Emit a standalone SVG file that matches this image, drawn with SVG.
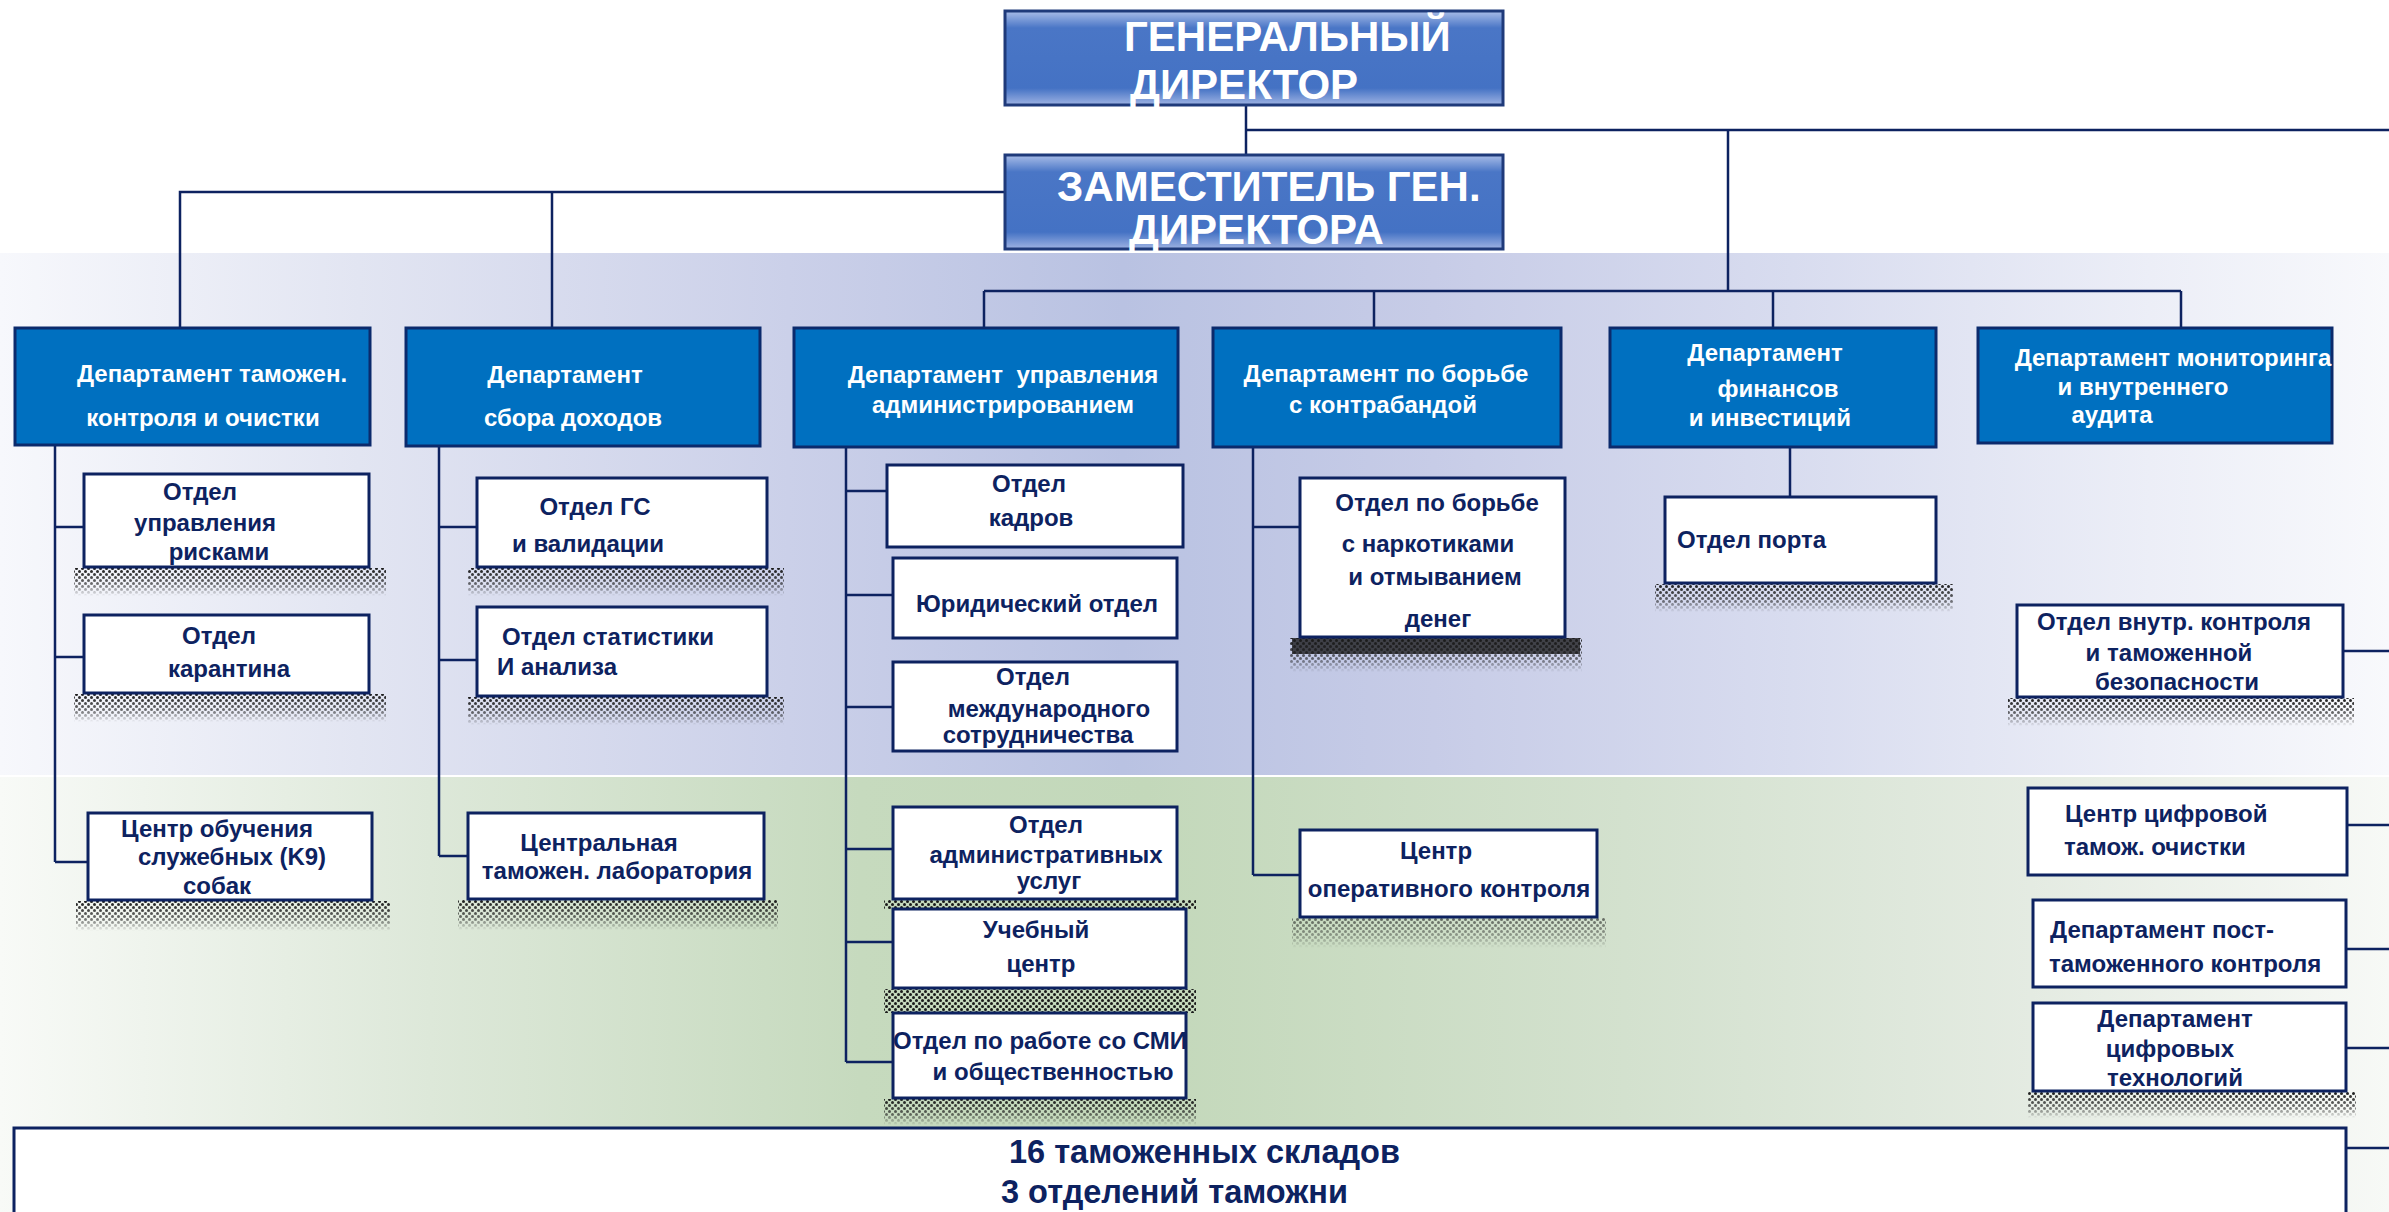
<svg xmlns="http://www.w3.org/2000/svg" width="2389" height="1212" viewBox="0 0 2389 1212">
<defs>
<style>
.dept rect{fill:#0070c0;stroke:#0b2a6c;stroke-width:3}
.sub rect.box{fill:#fff;stroke:#0d2260;stroke-width:3}
.top rect{fill:url(#topg);stroke:#1f3a7a;stroke-width:3}
.wt{font-family:"Liberation Sans",Arial,sans-serif;font-weight:bold;fill:#fff;font-size:24px}
.tt{font-family:"Liberation Sans",Arial,sans-serif;font-weight:bold;fill:#fff;font-size:42px}
.nt{font-family:"Liberation Sans",Arial,sans-serif;font-weight:bold;fill:#0d2260;font-size:24px}
.bt{font-family:"Liberation Sans",Arial,sans-serif;font-weight:bold;fill:#0d2260;font-size:32.5px}
.m{text-anchor:middle}
.conn path{fill:none;stroke:#0d2260;stroke-width:2.5}
.shd{fill:url(#dots)}
</style>
<linearGradient id="topg" x1="0" y1="0" x2="0" y2="1">
<stop offset="0" stop-color="#a9bde8"/><stop offset="0.18" stop-color="#4a76c6"/><stop offset="0.82" stop-color="#4472c4"/><stop offset="1" stop-color="#9fb3e3"/>
</linearGradient>
<linearGradient id="blueband" x1="0" y1="0" x2="1" y2="0">
<stop offset="0" stop-color="#f7f8fc"/><stop offset="0.15" stop-color="#e2e5f2"/><stop offset="0.33" stop-color="#cbd0e9"/><stop offset="0.47" stop-color="#b9c2e2"/><stop offset="0.6" stop-color="#c7cce7"/><stop offset="0.75" stop-color="#d8dcef"/><stop offset="0.9" stop-color="#eceef7"/><stop offset="1" stop-color="#f8f9fc"/>
</linearGradient>
<linearGradient id="greenband" x1="0" y1="0" x2="1" y2="0">
<stop offset="0" stop-color="#f8faf7"/><stop offset="0.18" stop-color="#dde8d9"/><stop offset="0.36" stop-color="#c6dabe"/><stop offset="0.48" stop-color="#c3d8ba"/><stop offset="0.68" stop-color="#d3e1ce"/><stop offset="0.85" stop-color="#e4ebe2"/><stop offset="1" stop-color="#f7f9f6"/>
</linearGradient>
<pattern id="dots" width="6" height="6" patternUnits="userSpaceOnUse">
<circle cx="1.5" cy="1.5" r="1.5" fill="#1a1a1a"/><circle cx="4.5" cy="4.5" r="1.5" fill="#1a1a1a"/>
</pattern>
<linearGradient id="fadeg" x1="0" y1="0" x2="0" y2="1">
<stop offset="0" stop-color="#fff"/><stop offset="0.6" stop-color="#999"/><stop offset="1" stop-color="#000"/>
</linearGradient>
<mask id="fade" maskContentUnits="objectBoundingBox"><rect width="1" height="1" fill="url(#fadeg)"/></mask>
</defs>

<rect width="2389" height="1212" fill="#fff"/>
<rect x="0" y="253" width="2389" height="522" fill="url(#blueband)"/>
<rect x="0" y="777" width="2389" height="435" fill="url(#greenband)"/>

<g class="conn" id="connectors">
<path d="M1246,105 V155"/>
<path d="M1246,130 H2389"/>
<path d="M1728,130 V291"/>
<path d="M984,291 H2181"/>
<path d="M984,291 V328 M1374,291 V328 M1773,291 V328 M2181,291 V328"/>
<path d="M1005,192 H180 V328 M552,192 V328"/>
<path d="M55,445 V862 M55,527 H84 M55,657 H84 M55,862 H88"/>
<path d="M439,446 V856 M439,527 H477 M439,660 H477 M439,856 H468"/>
<path d="M846,447 V1062 M846,491 H887 M846,595 H893 M846,707 H893 M846,849 H893 M846,942 H893 M846,1062 H893"/>
<path d="M1253,447 V875 M1253,527 H1300 M1253,875 H1300"/>
<path d="M1790,447 V497"/>
<path d="M2343,651 H2389 M2347,825 H2389 M2346,949 H2389 M2346,1048 H2389 M2346,1148 H2389"/>
</g>

<g id="gen-director" class="top">
<rect x="1005" y="11" width="498" height="94"/>
<text class="tt" x="1124" y="51">ГЕНЕРАЛЬНЫЙ</text>
<text class="tt" x="1130" y="99">ДИРЕКТОР</text>
</g>
<g id="deputy" class="top">
<rect x="1005" y="155" width="498" height="94"/>
<text class="tt" x="1057" y="201">ЗАМЕСТИТЕЛЬ ГЕН.</text>
<text class="tt" x="1129" y="244">ДИРЕКТОРА</text>
</g>

<g id="dept-customs" class="dept">
<rect x="15" y="328" width="355" height="117"/>
<text class="wt m" x="212" y="382">Департамент таможен.</text>
<text class="wt m" x="203" y="426">контроля и очистки</text>
</g>
<g id="dept-revenue" class="dept">
<rect x="406" y="328" width="354" height="118"/>
<text class="wt m" x="565" y="383">Департамент</text>
<text class="wt m" x="573" y="426">сбора доходов</text>
</g>
<g id="dept-admin" class="dept">
<rect x="794" y="328" width="384" height="119"/>
<text class="wt m" x="1003" y="383" xml:space="preserve">Департамент  управления</text>
<text class="wt m" x="1003" y="413">администрированием</text>
</g>
<g id="dept-contraband" class="dept">
<rect x="1213" y="328" width="348" height="119"/>
<text class="wt m" x="1386" y="382">Департамент по борьбе</text>
<text class="wt m" x="1383" y="413">с контрабандой</text>
</g>
<g id="dept-finance" class="dept">
<rect x="1610" y="328" width="326" height="119"/>
<text class="wt m" x="1765" y="361">Департамент</text>
<text class="wt m" x="1778" y="397">финансов</text>
<text class="wt m" x="1770" y="426">и инвестиций</text>
</g>
<g id="dept-monitoring" class="dept">
<rect x="1978" y="328" width="354" height="115"/>
<text class="wt m" x="2173" y="366">Департамент мониторинга</text>
<text class="wt m" x="2143" y="395">и внутреннего</text>
<text class="wt m" x="2112" y="423">аудита</text>
</g>

<g id="risk" class="sub">
<rect class="shd" x="74" y="568" width="312" height="28" mask="url(#fade)"/>
<rect class="box" x="84" y="474" width="285" height="93"/>
<text class="nt m" x="200" y="500">Отдел</text>
<text class="nt m" x="205" y="531">управления</text>
<text class="nt m" x="219" y="560">рисками</text>
</g>
<g id="quarantine" class="sub">
<rect class="shd" x="74" y="694" width="312" height="28" mask="url(#fade)"/>
<rect class="box" x="84" y="615" width="285" height="78"/>
<text class="nt m" x="219" y="644">Отдел</text>
<text class="nt m" x="229" y="677">карантина</text>
</g>
<g id="k9" class="sub">
<rect class="shd" x="76" y="901" width="314" height="30" mask="url(#fade)"/>
<rect class="box" x="88" y="813" width="284" height="87"/>
<text class="nt m" x="217" y="837">Центр обучения</text>
<text class="nt m" x="232" y="865">служебных (K9)</text>
<text class="nt m" x="217" y="894">собак</text>
</g>
<g id="gs" class="sub">
<rect class="shd" x="468" y="568" width="316" height="28" mask="url(#fade)"/>
<rect class="box" x="477" y="478" width="290" height="89"/>
<text class="nt m" x="595" y="515">Отдел ГС</text>
<text class="nt m" x="588" y="552">и валидации</text>
</g>
<g id="stat" class="sub">
<rect class="shd" x="468" y="697" width="316" height="28" mask="url(#fade)"/>
<rect class="box" x="477" y="607" width="290" height="89"/>
<text class="nt m" x="608" y="645">Отдел статистики</text>
<text class="nt" x="497" y="675">И анализа</text>
</g>
<g id="lab" class="sub">
<rect class="shd" x="458" y="900" width="320" height="30" mask="url(#fade)"/>
<rect class="box" x="468" y="813" width="296" height="86"/>
<text class="nt m" x="599" y="851">Центральная</text>
<text class="nt m" x="617" y="879">таможен. лаборатория</text>
</g>
<g id="hr" class="sub">
<rect class="box" x="887" y="465" width="296" height="82"/>
<text class="nt m" x="1029" y="492">Отдел</text>
<text class="nt m" x="1031" y="526">кадров</text>
</g>
<g id="legal" class="sub">
<rect class="box" x="893" y="558" width="284" height="80"/>
<text class="nt m" x="1037" y="612">Юридический отдел</text>
</g>
<g id="intl" class="sub">
<rect class="box" x="893" y="662" width="284" height="89"/>
<text class="nt m" x="1033" y="685">Отдел</text>
<text class="nt m" x="1049" y="717">международного</text>
<text class="nt m" x="1038" y="743">сотрудничества</text>
</g>
<g id="adminserv" class="sub">
<rect class="shd" x="884" y="900" width="312" height="9"/>
<rect class="box" x="893" y="807" width="284" height="92"/>
<text class="nt m" x="1046" y="833">Отдел</text>
<text class="nt m" x="1046" y="863">административных</text>
<text class="nt m" x="1049" y="889">услуг</text>
</g>
<g id="training" class="sub">
<rect class="shd" x="884" y="989" width="312" height="24"/>
<rect class="box" x="893" y="909" width="293" height="79"/>
<text class="nt m" x="1036" y="938">Учебный</text>
<text class="nt m" x="1041" y="972">центр</text>
</g>
<g id="media" class="sub">
<rect class="shd" x="884" y="1099" width="312" height="26" mask="url(#fade)"/>
<rect class="box" x="893" y="1013" width="293" height="85"/>
<text class="nt m" x="1040" y="1049">Отдел по работе со СМИ</text>
<text class="nt m" x="1053" y="1080">и общественностью</text>
</g>
<g id="narco" class="sub">
<rect x="1292" y="638" width="288" height="16" fill="#111" opacity="0.75"/>
<rect class="shd" x="1290" y="638" width="292" height="34" mask="url(#fade)"/>
<rect class="box" x="1300" y="478" width="265" height="159"/>
<text class="nt m" x="1437" y="511">Отдел по борьбе</text>
<text class="nt m" x="1428" y="552">с наркотиками</text>
<text class="nt m" x="1435" y="585">и отмыванием</text>
<text class="nt m" x="1438" y="627">денег</text>
</g>
<g id="opcontrol" class="sub">
<rect class="shd" x="1292" y="918" width="314" height="30" mask="url(#fade)" opacity="0.6"/>
<rect class="box" x="1300" y="830" width="297" height="87"/>
<text class="nt m" x="1436" y="859">Центр</text>
<text class="nt m" x="1449" y="897">оперативного контроля</text>
</g>
<g id="port" class="sub">
<rect class="shd" x="1655" y="584" width="298" height="28" mask="url(#fade)"/>
<rect class="box" x="1665" y="497" width="271" height="86"/>
<text class="nt" x="1677" y="548">Отдел порта</text>
</g>
<g id="internal" class="sub">
<rect class="shd" x="2008" y="698" width="346" height="28" mask="url(#fade)"/>
<rect class="box" x="2017" y="605" width="326" height="92"/>
<text class="nt m" x="2174" y="630">Отдел внутр. контроля</text>
<text class="nt m" x="2169" y="661">и таможенной</text>
<text class="nt m" x="2177" y="690">безопасности</text>
</g>
<g id="digital-center" class="sub">
<rect class="box" x="2028" y="788" width="319" height="87"/>
<text class="nt" x="2065" y="822">Центр цифровой</text>
<text class="nt" x="2064" y="855">тамож. очистки</text>
</g>
<g id="postcustoms" class="sub">
<rect class="box" x="2033" y="900" width="313" height="87"/>
<text class="nt" x="2050" y="938">Департамент пост-</text>
<text class="nt" x="2049" y="972">таможенного контроля</text>
</g>
<g id="digitaltech" class="sub">
<rect class="shd" x="2028" y="1092" width="328" height="26" mask="url(#fade)"/>
<rect class="box" x="2033" y="1003" width="313" height="88"/>
<text class="nt m" x="2175" y="1027">Департамент</text>
<text class="nt m" x="2170" y="1057">цифровых</text>
<text class="nt m" x="2175" y="1086">технологий</text>
</g>
<g id="warehouses" class="sub">
<rect class="box" x="14" y="1128" width="2332" height="110"/>
<text class="bt" x="1009" y="1163">16 таможенных складов</text>
<text class="bt" x="1001" y="1203">3 отделений таможни</text>
</g>
</svg>
